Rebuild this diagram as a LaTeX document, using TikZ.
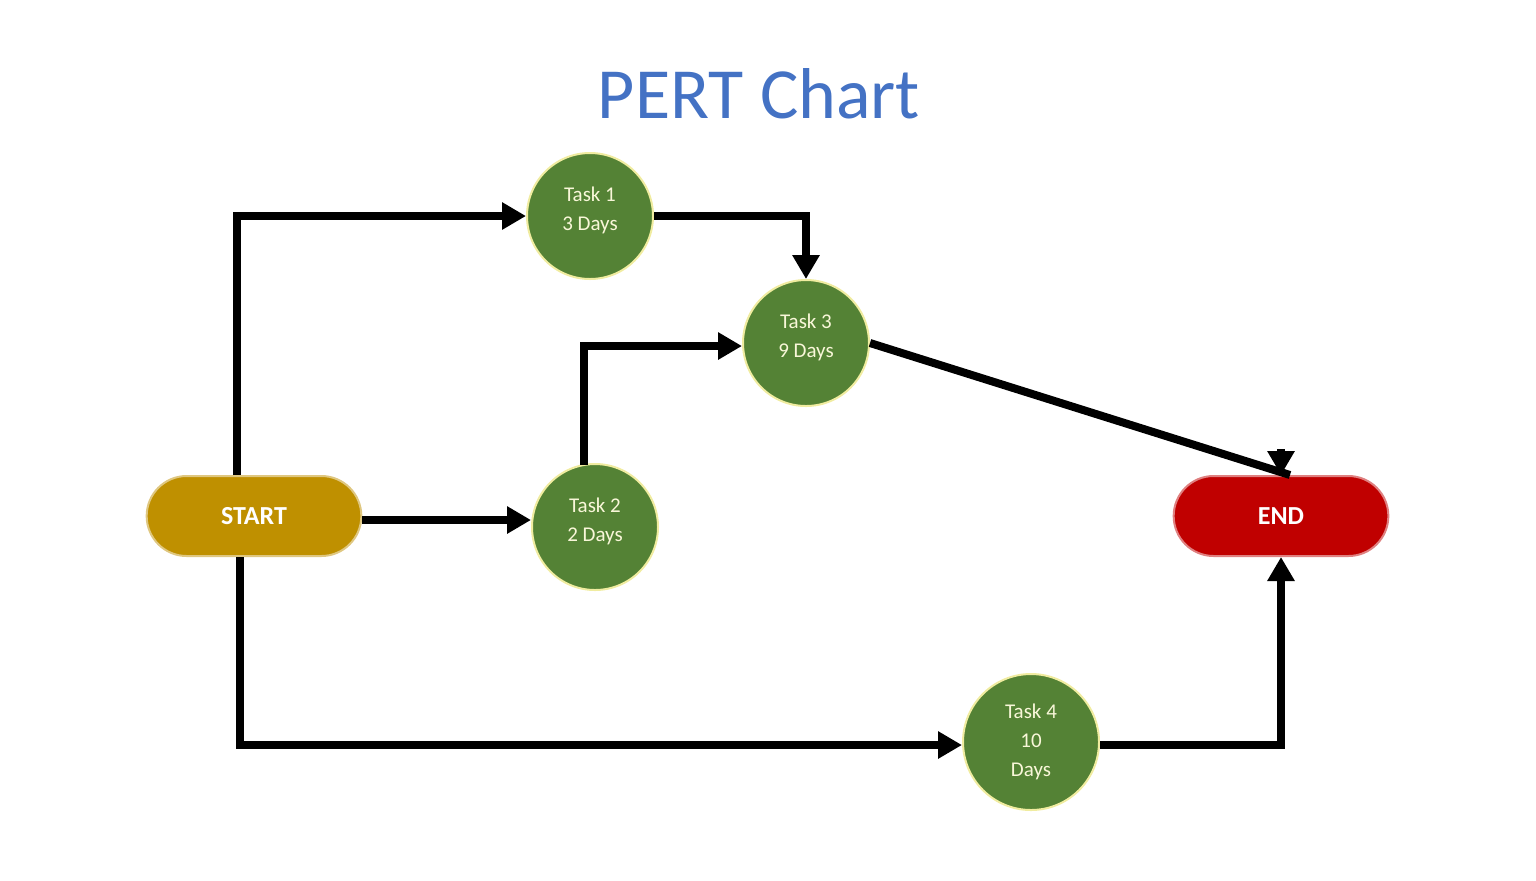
\documentclass[tikz,border=0pt]{standalone}
\usepackage{fontspec}
\setmainfont{Carlito}
\usetikzlibrary{arrows.meta,shapes.misc,calc}
\definecolor{taskgreen}{RGB}{84,130,53}
\definecolor{taskrim}{RGB}{240,236,160}
\definecolor{startgold}{RGB}{191,144,0}
\definecolor{endred}{RGB}{192,0,0}
\definecolor{titleblue}{RGB}{68,114,196}
\tikzset{
  tasknode/.style={circle,fill=taskgreen,draw=taskrim,line width=1pt,text=taskrim!40!white,
    align=center,font=\fontsize{10.5}{14.5}\selectfont},
  twoline/.style={text depth=7pt},
  endpoint/.style={rounded rectangle,draw=#1!50!white,line width=1pt,fill=#1,text=white,
    minimum width=114pt,minimum height=40pt,font=\bfseries\fontsize{13}{15}\selectfont},
  arrowline/.style={line width=4pt,-{Triangle[length=12pt,width=13pt]}},
  plainline/.style={line width=4pt}
}
\begin{document}
\begin{tikzpicture}[x=0.5pt,y=0.5pt,yscale=-1,xscale=1]
\useasboundingbox (0,0) rectangle (1536,880);

% Title
\node (title) at (759,94) [text=titleblue,font=\fontsize{36}{40}\selectfont] {PERT Chart};

% Start and end
\node (startbox) [endpoint=startgold] at (254,516) {START};
\node (endbox) [endpoint=endred] at (1281,516) {END};

% Tasks
\node (task1) [tasknode,twoline,minimum size=63pt] at (590,216) {Task 1\\3 Days};
\node (task2) [tasknode,twoline,minimum size=63pt] at (595,527) {Task 2\\2 Days};
\node (task3) [tasknode,twoline,minimum size=63pt] at (806,343) {Task 3\\9 Days};
\node (task4) [tasknode,minimum size=68pt] at (1031,742) {Task 4\\10\\Days};

% Connectors
\draw [arrowline] ($(startbox.north)+(-17,0)$) |- (task1.west);
\draw [arrowline] (task1.east) -| (task3.north);
\draw [arrowline] ($(startbox.east)+(0,4)$) -- ($(task2.west)+(0,-7)$);
\draw [arrowline] ($(task2.north)+(-11,2)$) |- ($(task3.west)+(0,3)$);
\draw [plainline] (task3.east) -- ($(endbox.north)+(9,0)$);
\draw [arrowline] ($(endbox.north)+(0,-26)$) -- (endbox.north);
\draw [arrowline] ($(startbox.south)+(-14,0)$) |- ($(task4.west)+(0,3)$);
\draw [arrowline] ($(task4.east)+(0,3)$) -| (endbox.south);
\end{tikzpicture}
\end{document}
